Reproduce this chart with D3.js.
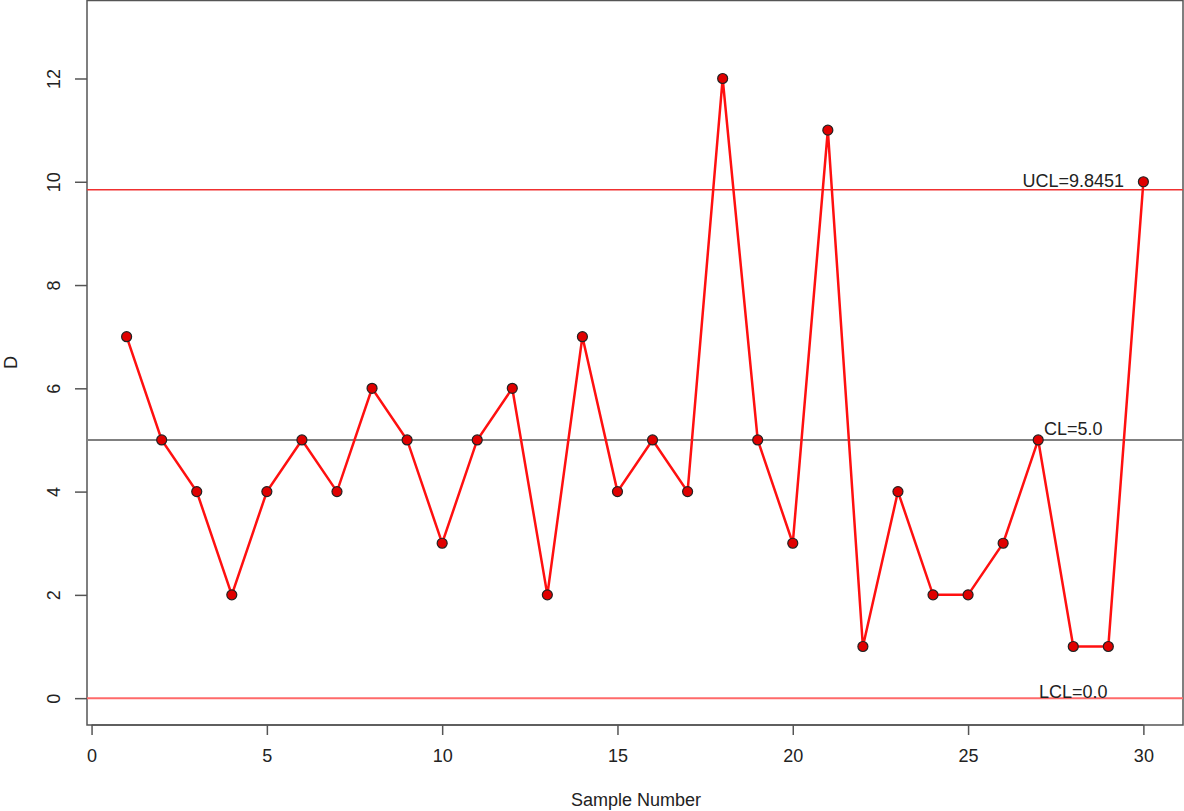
<!DOCTYPE html>
<html>
<head>
<meta charset="utf-8">
<script src="https://cdn.jsdelivr.net/npm/d3@7"></script>
<style>
    body { margin: 0; background: #fff; }
    text { font-family: "Liberation Sans", Arial, sans-serif; fill: #222; }
</style>
</head>
<body>
<div id="chart"></div>
<script>
// sample numbers and the count of defects (D) for each
const samples = d3.range(1, 31);
const defects = [7, 5, 4, 2, 4, 5, 4, 6, 5, 3, 5, 6, 2, 7, 4, 5, 4, 12, 5, 3, 11, 1, 4, 2, 2, 3, 5, 1, 1, 10];

// control limits
const limitNames = ['UCL', 'CL', 'LCL'];
const limitValues = [9.8451, 5.0, 0.0];
const limitLabels = ['UCL=9.8451', 'CL=5.0', 'LCL=0.0'];

const xTicks = [0, 5, 10, 15, 20, 25, 30];
const yTicks = [0, 2, 4, 6, 8, 10, 12];

const width = 1184, height = 811;
const margin = {top: 0, right: 1, bottom: 86, left: 87};
const fontSize = '18px';

const svg = d3.select('#chart').append('svg')
    .attr('width', width)
    .attr('height', height);

// scales (R style padding round the data range)
const xScale = d3.scaleLinear()
    .domain([-0.13, 31.13])
    .range([margin.left, width - margin.right]);

const yScale = d3.scaleLinear()
    .domain([-0.52, 13.52])
    .range([height - margin.bottom, margin.top]);

// plot box
svg.append('rect')
    .attr('x', margin.left)
    .attr('y', margin.top + 0.5)
    .attr('width', width - margin.right - margin.left)
    .attr('height', height - margin.bottom - margin.top - 0.5)
    .attr('fill', 'none')
    .attr('stroke', '#555')
    .attr('stroke-width', 1.5);

// x axis
const xAxis = svg.append('g')
    .attr('transform', `translate(0, ${height - margin.bottom})`)
    .call(d3.axisBottom(xScale).tickValues(xTicks).tickSize(10).tickPadding(14));
xAxis.select('.domain')
    .attr('d', `M${xScale(0)},0H${xScale(30)}`)
    .attr('stroke', '#555').attr('stroke-width', 1.5);
xAxis.selectAll('.tick line').attr('stroke', '#555').attr('stroke-width', 1.5);
xAxis.selectAll('text').style('font-size', fontSize).attr('fill', '#222');

// y axis with rotated labels
const yAxis = svg.append('g')
    .attr('transform', `translate(${margin.left}, 0)`)
    .call(d3.axisLeft(yScale).tickValues(yTicks).tickSize(12));
yAxis.select('.domain').remove();
yAxis.selectAll('.tick line').attr('stroke', '#555').attr('stroke-width', 1.5);
yAxis.selectAll('text')
    .style('font-size', fontSize)
    .attr('fill', '#222')
    .attr('x', 0)
    .attr('dy', 0)
    .attr('text-anchor', 'middle')
    .attr('transform', 'translate(-27, 0) rotate(-90)');

// axis titles
svg.append('text')
    .attr('x', 636)
    .attr('y', 806)
    .attr('text-anchor', 'middle')
    .style('font-size', fontSize)
    .text('Sample Number');

svg.append('text')
    .attr('transform', `translate(17, ${yScale(6.5)}) rotate(-90)`)
    .attr('text-anchor', 'middle')
    .style('font-size', fontSize)
    .text('D');

// control limit lines
const limitColours = ['#f03030', '#808080', '#ff6a6a'];
const limitWidths = [1.5, 2, 2];
svg.selectAll('.limit')
    .data(limitValues)
    .enter()
    .append('line')
    .attr('class', 'limit')
    .attr('x1', margin.left)
    .attr('x2', width - margin.right)
    .attr('y1', d => yScale(d))
    .attr('y2', d => yScale(d))
    .attr('stroke', (d, i) => limitColours[i])
    .attr('stroke-width', (d, i) => limitWidths[i]);

// data line
const line = d3.line()
    .x((d, i) => xScale(samples[i]))
    .y(d => yScale(d));

svg.append('path')
    .datum(defects)
    .attr('d', line)
    .attr('fill', 'none')
    .attr('stroke', '#ff1010')
    .attr('stroke-width', 2.5);

svg.selectAll('.pt')
    .data(defects)
    .enter()
    .append('circle')
    .attr('class', 'pt')
    .attr('cx', (d, i) => xScale(samples[i]))
    .attr('cy', d => yScale(d))
    .attr('r', 5)
    .attr('fill', '#e00000')
    .attr('stroke', '#222')
    .attr('stroke-width', 1.2);

// limit labels
const labelOffsets = [-3, -5, 0];
svg.selectAll('.limitLabel')
    .data(limitLabels)
    .enter()
    .append('text')
    .attr('class', 'limitLabel')
    .attr('x', xScale(28))
    .attr('y', (d, i) => yScale(limitValues[i]) + labelOffsets[i])
    .attr('text-anchor', 'middle')
    .style('font-size', fontSize)
    .text(d => d);
</script>
</body>
</html>
